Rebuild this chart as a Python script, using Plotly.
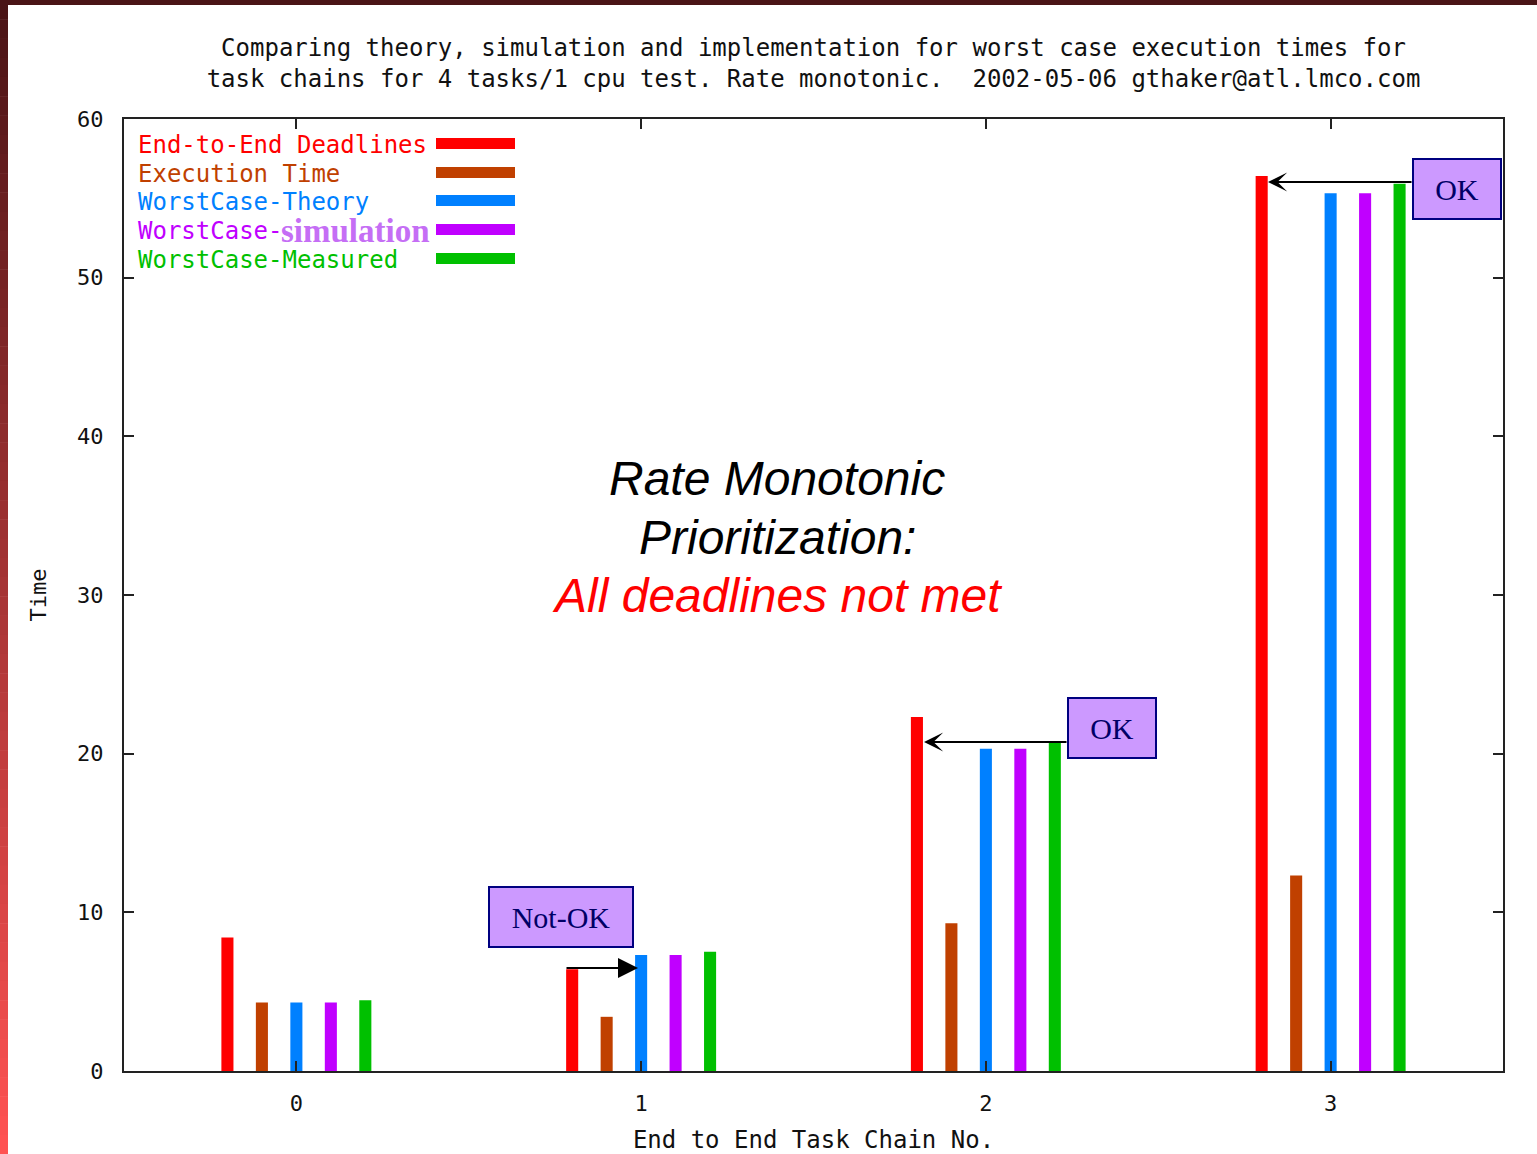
import plotly.graph_objects as go

# ---- data -------------------------------------------------------------
chains = [0, 1, 2, 3]
series_names = [
    "End-to-End Deadlines",
    "Execution Time",
    "WorstCase-Theory",
    "WorstCase-simulation",
    "WorstCase-Measured",
]
end_to_end_deadlines = [8.1, 6.1, 22.0, 56.1]
execution_time = [4.0, 3.1, 9.0, 12.0]
worstcase_theory = [4.0, 7.0, 20.0, 55.0]
worstcase_simulation = [4.0, 7.0, 20.0, 55.0]
worstcase_measured = [4.15, 7.2, 20.4, 55.6]
y_tick_values = [0, 10, 20, 30, 40, 50, 60]

series_values = [
    end_to_end_deadlines,
    execution_time,
    worstcase_theory,
    worstcase_simulation,
    worstcase_measured,
]
colors = ["#ff0000", "#c04000", "#0080ff", "#c000ff", "#00c000"]
slot_offsets = [-0.2, -0.1, 0.0, 0.1, 0.2]

MONO = "DejaVu Sans Mono"
SERIF = "Liberation Serif"
SANS = "Liberation Sans"

# page geometry (pixels)
W, H = 1537, 1154
L, R, T, B = 124, 34, 119, 83
PW, PH = W - L - R, H - T - B


def px_x(px):
    return (px - L) / PW


def px_y(py):
    return (H - B - py) / PH


fig = go.Figure()

# impulse-style bars: thin fill plus a thick outline gives the square-capped look
fill_w = 0.006
for name, vals, col, off in zip(series_names, series_values, colors, slot_offsets):
    fig.add_trace(
        go.Bar(
            x=chains,
            y=vals,
            name=name,
            width=fill_w,
            offset=off - fill_w / 2,
            marker=dict(color=col, line=dict(color=col, width=10)),
            showlegend=False,
            hovertemplate=name + ": %{y}<extra></extra>",
        )
    )

shapes = []
annotations = []

# framed background strip on the left and top edge
n_strip = 60
c0 = (0x4a, 0x14, 0x16)
c1 = (0xff, 0x52, 0x52)
for i in range(n_strip):
    t = i / (n_strip - 1)
    c = tuple(round(a + (b - a) * t) for a, b in zip(c0, c1))
    y0 = i * H / n_strip
    y1 = (i + 1) * H / n_strip + 0.5
    shapes.append(dict(
        type="rect", xref="paper", yref="paper", layer="above",
        x0=px_x(0), x1=px_x(8), y0=px_y(y1), y1=px_y(y0),
        fillcolor="rgb(%d,%d,%d)" % c, line=dict(width=0),
    ))
shapes.append(dict(
    type="rect", xref="paper", yref="paper", layer="above",
    x0=px_x(0), x1=px_x(W), y0=px_y(5), y1=px_y(0),
    fillcolor="rgb(74,20,22)", line=dict(width=0),
))

# key: coloured text on the left, colour swatch on the right
key_rows = [145, 174, 202, 231, 260]
for name, col, ry in zip(series_names, colors, key_rows):
    label = name if name != "WorstCase-simulation" else "WorstCase-"
    annotations.append(dict(
        xref="paper", yref="paper", x=px_x(136), y=px_y(ry),
        xanchor="left", yanchor="middle", showarrow=False,
        text=label, font=dict(family=MONO, size=24, color=col),
    ))
    shapes.append(dict(
        type="rect", xref="paper", yref="paper",
        x0=px_x(436), x1=px_x(515), y0=px_y(ry + 4), y1=px_y(ry - 7),
        fillcolor=col, line=dict(width=0),
    ))
annotations.append(dict(
    xref="paper", yref="paper", x=px_x(279), y=px_y(231),
    xanchor="left", yanchor="middle", showarrow=False,
    text="<b>simulation</b>", font=dict(family=SERIF, size=33, color="#c56ef5"),
))

# central message, one line per annotation
message_lines = [
    ("Rate Monotonic", "#000000", 478),
    ("Prioritization:", "#000000", 537),
    ("All deadlines not met", "#ff0000", 595),
]
for txt, col, ly in message_lines:
    annotations.append(dict(
        xref="paper", yref="paper", x=px_x(777), y=px_y(ly),
        xanchor="center", yanchor="middle", showarrow=False, text=txt,
        font=dict(family=SANS, size=48, color=col, style="italic"),
    ))

# status boxes with arrows
box_style = dict(
    showarrow=False, bgcolor="#cc99ff", bordercolor="#000080", borderwidth=2,
    font=dict(family=SERIF, size=30, color="#000066"), height=56,
    xanchor="center", yanchor="middle",
)
annotations.append(dict(xref="paper", yref="paper", x=px_x(560.5), y=px_y(917),
                        text="Not-OK", width=140, **box_style))
annotations.append(dict(xref="paper", yref="paper", x=px_x(1112), y=px_y(727.5),
                        text="OK", width=84, **box_style))
annotations.append(dict(xref="paper", yref="paper", x=px_x(1456.5), y=px_y(189),
                        text="OK", width=84, **box_style))

arrows = [
    # (tail_px_x, head_px_x, px_y, head style, head size)
    (565, 638, 968, 2, 2.0),
    (1068, 924, 742, 3, 1.6),
    (1413, 1268, 182, 3, 1.6),
]
for tx, hx, ay_px, style, size in arrows:
    annotations.append(dict(
        xref="paper", yref="paper", axref="pixel", ayref="pixel",
        x=px_x(hx), y=px_y(ay_px), ax=tx - hx, ay=0,
        text="", showarrow=True, arrowhead=style, arrowsize=size,
        arrowwidth=2, arrowcolor="#000000", standoff=0, startstandoff=0,
    ))

axis_common = dict(
    showline=True, linecolor="#222222", linewidth=2, mirror="allticks",
    ticks="inside", ticklen=10, tickwidth=1.5, tickcolor="#222222",
    showgrid=False, zeroline=False,
    tickfont=dict(family=MONO, size=22, color="#111111"),
)

fig.update_layout(
    width=W, height=H,
    margin=dict(l=L, r=R, t=T, b=B, autoexpand=False),
    paper_bgcolor="#ffffff", plot_bgcolor="#ffffff",
    barmode="overlay",
    title=dict(
        text="Comparing theory, simulation and implementation for worst case execution times for<br>"
             "task chains for 4 tasks/1 cpu test. Rate monotonic.  2002-05-06 gthaker@atl.lmco.com",
        x=0.5, xref="paper", xanchor="center",
        y=1 - 56 / H, yref="container", yanchor="middle",
        font=dict(family=MONO, size=24, color="#111111"),
    ),
    xaxis=dict(
        range=[-0.5, 3.5], tickvals=chains, ticklabelstandoff=12,
        title=dict(text="End to End Task Chain No.", standoff=20,
                   font=dict(family=MONO, size=24, color="#111111")),
        **axis_common,
    ),
    yaxis=dict(
        range=[0, 60], tickvals=y_tick_values, ticklabelstandoff=14,
        title=dict(text="Time", standoff=24,
                   font=dict(family=MONO, size=22, color="#111111")),
        **axis_common,
    ),
    shapes=shapes,
    annotations=annotations,
)

fig.write_html("out.html")
